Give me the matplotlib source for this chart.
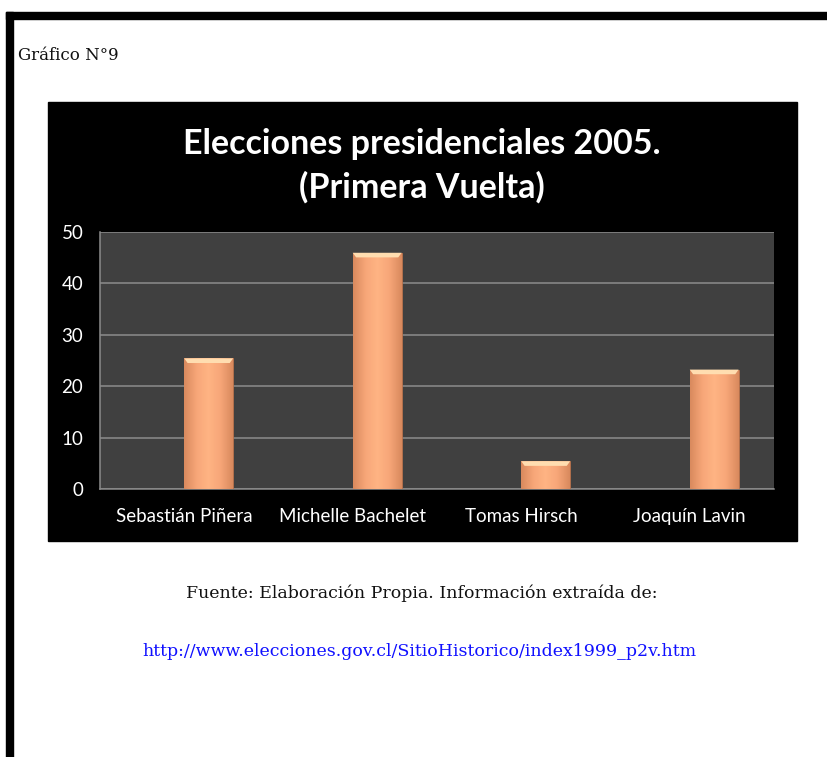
import matplotlib
matplotlib.use("Agg")
import matplotlib.pyplot as plt
from matplotlib.patches import Rectangle, Polygon
from matplotlib.colors import LinearSegmentedColormap
import numpy as np

# datos (porcentaje de votos, primera vuelta 2005)
candidatos = ["Sebastián Piñera", "Michelle Bachelet", "Tomas Hirsch", "Joaquín Lavin"]
votos = [25.41, 45.96, 5.40, 23.23]
yticks = [0, 10, 20, 30, 40, 50]

W, H = 827, 757


def fx(px):
    return px / W


def fy(py):
    return 1 - py / H


fig = plt.figure(figsize=(W / 100, H / 100), dpi=100)
fig.patch.set_facecolor("white")

# bordes de la pagina
fig.patches.append(Rectangle((fx(6), fy(19)), fx(827) - fx(6), fy(12) - fy(19),
                             transform=fig.transFigure, color="black", zorder=-2))
fig.patches.append(Rectangle((fx(6), fy(757)), fx(13) - fx(6), fy(12) - fy(757),
                             transform=fig.transFigure, color="black", zorder=-2))

# fondo negro del grafico
fig.patches.append(Rectangle((fx(48), fy(541)), fx(797) - fx(48), fy(102) - fy(541),
                             transform=fig.transFigure, color="black", zorder=-1))

fig.text(fx(18), fy(55), "Gráfico N°9", family="DejaVu Serif", fontsize=12,
         ha="left", va="center", color="#111111")

fig.text(fx(422), fy(166), "Elecciones presidenciales 2005.\n(Primera Vuelta)",
         family="Lato", fontweight="bold", fontsize=24.5, color="white",
         ha="center", va="center", linespacing=1.4)

ax = fig.add_axes([fx(100), fy(489), fx(774) - fx(100), fy(232) - fy(489)])
ax.set_facecolor("#404040")

x = np.arange(len(candidatos))
ancho = 0.29
barras = ax.bar(x, votos, width=ancho, align="edge", color="#F6A577",
                edgecolor="#B56F4A", linewidth=0.6, zorder=3)

# degradado horizontal en cada barra
cmap = LinearSegmentedColormap.from_list(
    "naranja", ["#D98A5E", "#F7A678", "#FFB484", "#F7A678", "#D98A5E"])
grad = np.linspace(0, 1, 64).reshape(1, -1)
for b in barras:
    x0, w, h = b.get_x(), b.get_width(), b.get_height()
    im = ax.imshow(grad, cmap=cmap, aspect="auto", extent=(x0, x0 + w, 0, h),
                   zorder=3.5, interpolation="bicubic")
    im.set_clip_path(b)
    # bisel superior
    d = 0.9
    ax.add_patch(Polygon([(x0, h), (x0 + w, h), (x0 + w - 0.02, h - d), (x0 + 0.02, h - d)],
                         closed=True, color="#FFDDB0", zorder=4, lw=0))

ax.set_xlim(-0.5, len(candidatos) - 0.5)
ax.set_ylim(0, 50)
ax.set_yticks(yticks)
ax.set_xticks(x)
ax.set_xticklabels(candidatos)
ax.grid(axis="y", color="#8C8C8C", linewidth=1.1, zorder=1)
ax.set_axisbelow(True)
ax.tick_params(length=0, colors="white", labelsize=13.5)
ax.tick_params(axis="x", pad=14)
ax.tick_params(axis="y", pad=12)
for lab in ax.get_xticklabels() + ax.get_yticklabels():
    lab.set_family("Lato")
for s in ["top", "right"]:
    ax.spines[s].set_visible(False)
for s in ["left", "bottom"]:
    ax.spines[s].set_color("#8C8C8C")
    ax.spines[s].set_linewidth(1.1)

fig.text(fx(422), fy(593), "Fuente: Elaboración Propia. Información extraída de:",
         family="DejaVu Serif", fontsize=12.5, ha="center", va="center", color="#111111")
fig.text(fx(419), fy(652), "http://www.elecciones.gov.cl/SitioHistorico/index1999_p2v.htm",
         family="DejaVu Serif", fontsize=12.5, ha="center", va="center", color="#1010FF")

fig.savefig("out.png", dpi=100)
